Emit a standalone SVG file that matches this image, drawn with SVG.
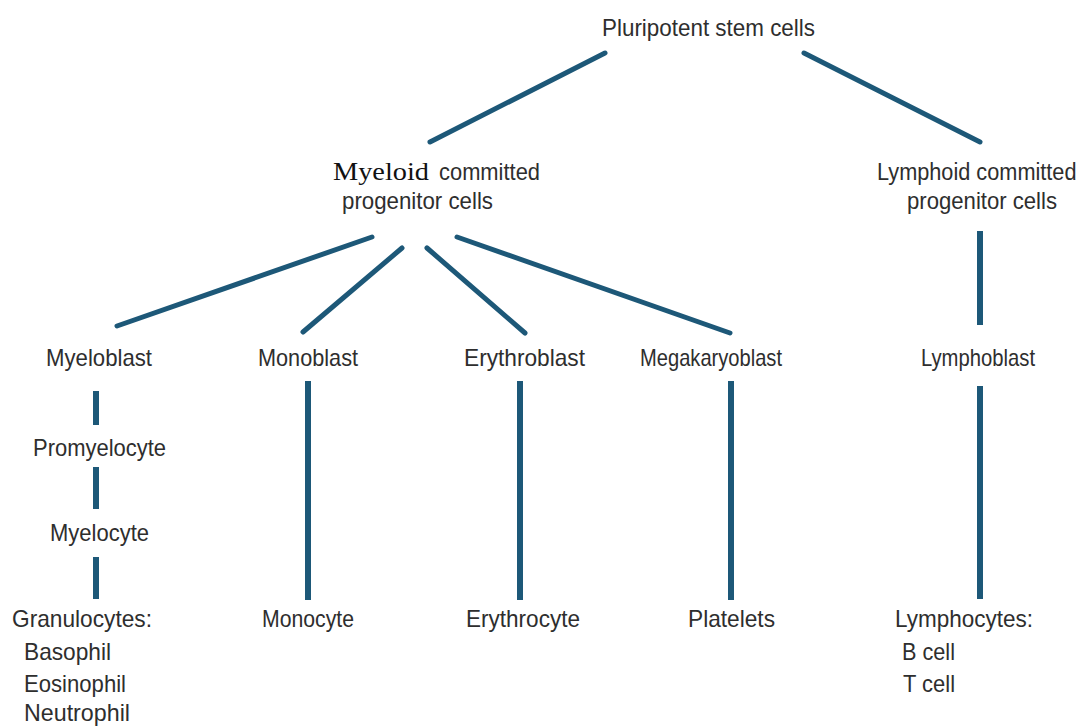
<svg xmlns="http://www.w3.org/2000/svg" width="1089" height="727" viewBox="0 0 1089 727">
  <style>
    .lbl { font-family: "Liberation Sans", Arial, sans-serif; font-size: 24px; fill: #2e2e2e; }
    .serif { font-family: "Liberation Serif", "Times New Roman", serif; font-size: 25px; fill: #111111; }
    .conn line { stroke: #1d5878; stroke-width: 5; stroke-linecap: round; }
    .conn line.v { stroke-width: 6; stroke-linecap: butt; }
  </style>
  <rect width="1089" height="727" fill="#ffffff"/>

  <!-- connectors -->
  <g class="conn" id="connectors">
    <line x1="605" y1="53" x2="430" y2="142"/>
    <line x1="804" y1="53" x2="980" y2="142"/>
    <line x1="372" y1="237" x2="117" y2="326"/>
    <line x1="402" y1="248" x2="303" y2="332"/>
    <line x1="427" y1="248" x2="525" y2="333"/>
    <line x1="457" y1="237" x2="730" y2="333"/>
    <line class="v" x1="96" y1="391" x2="96" y2="425"/>
    <line class="v" x1="96" y1="467" x2="96" y2="509"/>
    <line class="v" x1="96" y1="557" x2="96" y2="599"/>
    <line class="v" x1="308" y1="381" x2="308" y2="600"/>
    <line class="v" x1="520" y1="381" x2="520" y2="600"/>
    <line class="v" x1="731" y1="381" x2="731" y2="600"/>
    <line class="v" x1="980" y1="231" x2="980" y2="325"/>
    <line class="v" x1="980" y1="386" x2="980" y2="599"/>
  </g>

  <g id="pluripotent">
    <text class="lbl" x="602" y="36" textLength="213" lengthAdjust="spacingAndGlyphs">Pluripotent stem cells</text>
  </g>

  <g id="myeloid">
    <text class="serif" x="333" y="180" textLength="96" lengthAdjust="spacingAndGlyphs">Myeloid</text>
    <text class="lbl" x="439" y="180" textLength="101" lengthAdjust="spacingAndGlyphs">committed</text>
    <text class="lbl" x="342" y="209" textLength="151" lengthAdjust="spacingAndGlyphs">progenitor cells</text>
  </g>

  <g id="lymphoid">
    <!-- condensed horizontally so the line fits against the right edge -->
    <text class="lbl" transform="translate(877,180) scale(0.86,1)" x="0" y="0" textLength="232" lengthAdjust="spacingAndGlyphs">Lymphoid committed</text>
    <text class="lbl" x="907" y="209" textLength="150" lengthAdjust="spacingAndGlyphs">progenitor cells</text>
  </g>

  <g id="myeloblast">
    <text class="lbl" x="46" y="366" textLength="106" lengthAdjust="spacingAndGlyphs">Myeloblast</text>
  </g>
  <g id="promyelocyte">
    <text class="lbl" x="33" y="456" textLength="133" lengthAdjust="spacingAndGlyphs">Promyelocyte</text>
  </g>
  <g id="myelocyte">
    <text class="lbl" x="50" y="541" textLength="99" lengthAdjust="spacingAndGlyphs">Myelocyte</text>
  </g>
  <g id="granulocytes">
    <text class="lbl" x="12" y="627" textLength="140" lengthAdjust="spacingAndGlyphs">Granulocytes:</text>
    <text class="lbl" x="24" y="660" textLength="87" lengthAdjust="spacingAndGlyphs">Basophil</text>
    <text class="lbl" x="24" y="692" textLength="102" lengthAdjust="spacingAndGlyphs">Eosinophil</text>
    <text class="lbl" x="24" y="721" textLength="106" lengthAdjust="spacingAndGlyphs">Neutrophil</text>
  </g>

  <g id="monoblast">
    <text class="lbl" x="258" y="366" textLength="100" lengthAdjust="spacingAndGlyphs">Monoblast</text>
  </g>
  <g id="monocyte">
    <text class="lbl" x="262" y="627" textLength="92" lengthAdjust="spacingAndGlyphs">Monocyte</text>
  </g>

  <g id="erythroblast">
    <text class="lbl" x="464" y="366" textLength="121" lengthAdjust="spacingAndGlyphs">Erythroblast</text>
  </g>
  <g id="erythrocyte">
    <text class="lbl" x="466" y="627" textLength="114" lengthAdjust="spacingAndGlyphs">Erythrocyte</text>
  </g>

  <g id="megakaryoblast">
    <text class="lbl" x="640" y="366" textLength="142" lengthAdjust="spacingAndGlyphs">Megakaryoblast</text>
  </g>
  <g id="platelets">
    <text class="lbl" x="688" y="627" textLength="87" lengthAdjust="spacingAndGlyphs">Platelets</text>
  </g>

  <g id="lymphoblast">
    <text class="lbl" x="921" y="366" textLength="114" lengthAdjust="spacingAndGlyphs">Lymphoblast</text>
  </g>
  <g id="lymphocytes">
    <text class="lbl" x="895" y="627" textLength="138" lengthAdjust="spacingAndGlyphs">Lymphocytes:</text>
    <text class="lbl" x="902" y="660" textLength="53" lengthAdjust="spacingAndGlyphs">B cell</text>
    <text class="lbl" x="903" y="692" textLength="52" lengthAdjust="spacingAndGlyphs">T cell</text>
  </g>
</svg>
